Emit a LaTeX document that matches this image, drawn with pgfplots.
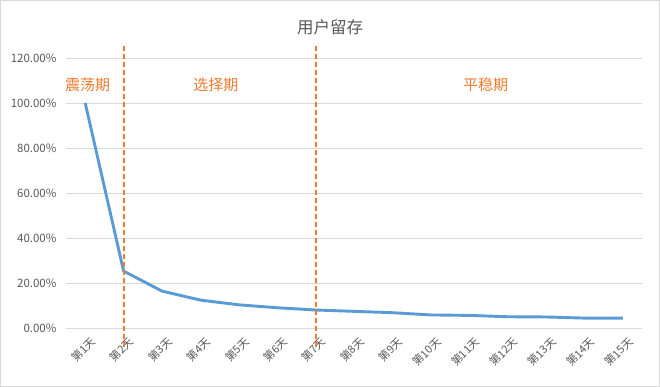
\documentclass[border=0pt]{standalone}
\usepackage{pgfplots}
\pgfplotsset{compat=1.18}
\usepackage{fontspec}
\setmainfont{Noto Sans CJK SC}
\definecolor{lineblue}{HTML}{5B9BD5}
\definecolor{phaseorange}{HTML}{ED7D31}
\definecolor{gridgray}{HTML}{D9D9D9}
\definecolor{txtgray}{HTML}{595959}
\begin{document}
\begin{tikzpicture}[x=1pt,y=1pt]
\draw[gridgray,line width=1pt,fill=white] (0.5,0.5) rectangle (659.5,386.5);
\node[txtgray,font=\fontsize{16.5}{19}\selectfont] at (330,360) {用户留存};
\begin{axis}[
  at={(66pt,59pt)}, anchor=south west,
  scale only axis, width=576pt, height=270pt,
  xmin=0.5, xmax=15.5, ymin=0, ymax=120,
  ytick={0,20,...,120},
  xtick={1,...,15},
  xticklabels={第1天,第2天,第3天,第4天,第5天,第6天,第7天,第8天,第9天,第10天,第11天,第12天,第13天,第14天,第15天},
  axis line style={draw=none},
  major tick length=0pt,
  ymajorgrids, grid style={gridgray,line width=0.8pt},
  /pgf/number format/assume math mode=true,
  yticklabel={\pgfmathprintnumber[fixed,fixed zerofill,precision=2]{\tick}\%},
  yticklabel style={txtgray,font=\fontsize{11.5}{13}\selectfont,xshift=-6pt},
  xticklabel style={txtgray,font=\fontsize{11}{13}\selectfont,rotate=45,anchor=east,xshift=1pt,yshift=-14pt},
  clip=false,
]
\addplot[lineblue,line width=2.9pt,line join=round] coordinates {
(1,100) (2,25.3) (3,16.4) (4,12.4) (5,10.3) (6,9.0) (7,8.0) (8,7.4) (9,6.8) (10,5.8) (11,5.6) (12,5.0) (13,4.9) (14,4.4) (15,4.4)};
\addplot[color=phaseorange,line width=1.9pt,dash pattern=on 5pt off 3pt,forget plot] coordinates {(2,-8.5) (2,126)};
\addplot[color=phaseorange,line width=1.9pt,dash pattern=on 5pt off 3pt,forget plot] coordinates {(7,-8.5) (7,126)};
\node[text=phaseorange,font=\fontsize{15}{17}\selectfont] at (axis cs:1.065,108) {震荡期};
\node[text=phaseorange,font=\fontsize{15}{17}\selectfont] at (axis cs:4.40,108) {选择期};
\node[text=phaseorange,font=\fontsize{15}{17}\selectfont] at (axis cs:11.43,108) {平稳期};
\end{axis}
\end{tikzpicture}
\end{document}
